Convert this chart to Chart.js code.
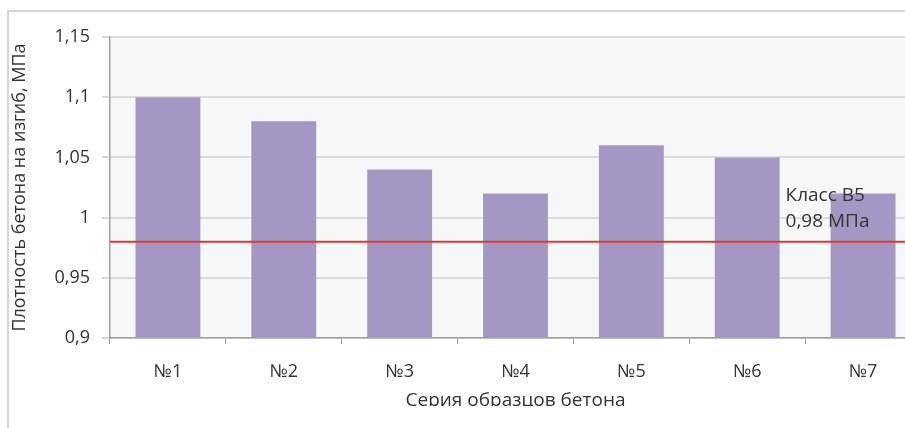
<!DOCTYPE html>
<html lang="ru">
<head>
  <meta charset="UTF-8">
  <title>Плотность бетона на изгиб</title>
  <script src="https://cdn.jsdelivr.net/npm/chart.js"></script>
  <style>
    html, body {
      margin: 0;
      padding: 0;
      background: #ffffff;
      overflow: hidden;
      width: 905px;
      height: 428px;
    }
    .frame {
      position: absolute;
      left: 7px;
      top: 10px;
      border-left: 2px solid #d6d6d6;
      border-top: 2px solid #d6d6d6;
      width: 925px;
      height: 418px;
    }
  </style>
</head>
<body>
  <div class="frame">
    <canvas id="chart" width="925" height="394"></canvas>
  </div>

<script>
// data
const categories = ['№1', '№2', '№3', '№4', '№5', '№6', '№7'];
const strength = [1.10, 1.08, 1.04, 1.02, 1.06, 1.05, 1.02];
const classB5 = 0.98;
const classLabel = ['Класс В5', '0,98 МПа'];
const yTitle = 'Плотность бетона на изгиб, МПа';
const xTitle = 'Серия образцов бетона';

const fontFamily = '"Open Sans", Lato, sans-serif';
const textColor = '#333333';

// light grey plot background + the class label
const plotBg = {
  id: 'plotBg',
  beforeDraw(chart) {
    const {ctx, chartArea: a} = chart;
    ctx.save();
    ctx.fillStyle = '#f7f7f7';
    ctx.fillRect(a.left, a.top, a.right - a.left, a.bottom - a.top);
    ctx.restore();
  },
  afterDraw(chart) {
    const {ctx, scales} = chart;
    const x = scales.x2.getPixelForValue(0.833);
    ctx.save();
    ctx.font = '19px ' + fontFamily;
    ctx.fillStyle = '#333333';
    ctx.textBaseline = 'middle';
    ctx.fillText(classLabel[0], x, scales.y.getPixelForValue(1.0185));
    ctx.fillText(classLabel[1], x, scales.y.getPixelForValue(0.997));
    ctx.restore();
  }
};

const ctx = document.getElementById('chart').getContext('2d');
new Chart(ctx, {
  type: 'bar',
  data: {
    labels: categories,
    datasets: [{
      label: 'strength',
      data: strength,
      backgroundColor: '#a597c3',
      barPercentage: 0.56,
      categoryPercentage: 1,
      grouped: false,
      order: 2
    }, {
      type: 'line',
      label: 'B5',
      data: [{x: 0, y: classB5}, {x: 1, y: classB5}],
      xAxisID: 'x2',
      borderColor: '#d93a36',
      borderWidth: 2,
      pointRadius: 0,
      order: 1
    }]
  },
  options: {
    responsive: false,
    animation: false,
    layout: {padding: {top: 25, right: 13, left: 0, bottom: 0}},
    plugins: {
      legend: {display: false},
      tooltip: {enabled: false}
    },
    scales: {
      x: {
        grid: {
          offset: true,
          drawOnChartArea: false,
          tickLength: 6,
          color: '#9a9a9a'
        },
        border: {color: '#a0a0a0', width: 1.5},
        ticks: {
          color: textColor,
          font: {family: fontFamily, size: 18},
          padding: 17
        },
        title: {
          display: true,
          text: xTitle,
          color: textColor,
          font: {family: fontFamily, size: 19},
          padding: {top: 0, bottom: -6}
        },
        afterFit(scale) { scale.height = 68; }
      },
      x2: {
        type: 'linear',
        display: false,
        offset: false,
        grid: {offset: false},
        min: 0,
        max: 1
      },
      y: {
        min: 0.9,
        max: 1.15,
        ticks: {
          stepSize: 0.05,
          color: textColor,
          font: {family: fontFamily, size: 18},
          padding: 12,
          callback: v => String(Math.round(v * 100) / 100).replace('.', ',')
        },
        grid: {
          color: '#dcdcdc',
          lineWidth: 2,
          tickLength: 8,
          tickColor: '#b0b0b0',
          tickWidth: 1
        },
        border: {color: '#a0a0a0', width: 1.5},
        title: {
          display: true,
          text: yTitle,
          color: textColor,
          font: {family: fontFamily, size: 18},
          padding: {top: 0, bottom: 0}
        },
        afterFit(scale) { scale.width = 101; }
      }
    }
  },
  plugins: [plotBg]
});
</script>
</body>
</html>
